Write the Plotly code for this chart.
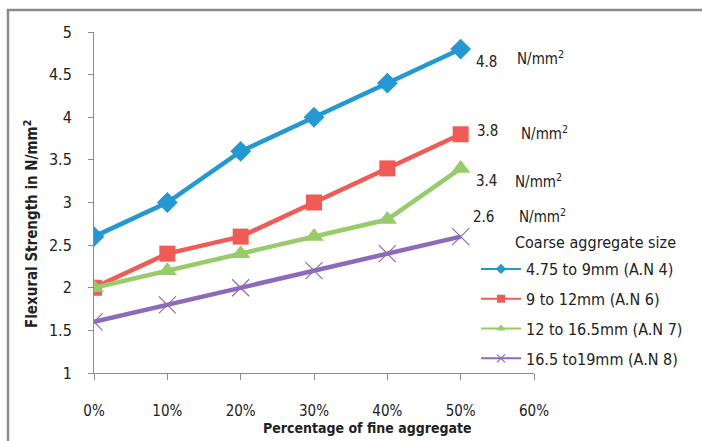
import plotly.graph_objects as go

# Percentage of fine aggregate (x) and flexural strength (N/mm²) per coarse aggregate size
fine_pct = [0, 10, 20, 30, 40, 50]
x_ticks = [0, 10, 20, 30, 40, 50, 60]
x_tick_text = ["0%", "10%", "20%", "30%", "40%", "50%", "60%"]

series_names = [
    "4.75 to 9mm (A.N 4)",
    "9 to 12mm (A.N 6)",
    "12 to 16.5mm (A.N 7)",
    "16.5 to19mm (A.N 8)",
]
an4 = [2.6, 3.0, 3.6, 4.0, 4.4, 4.8]
an6 = [2.0, 2.4, 2.6, 3.0, 3.4, 3.8]
an7 = [2.0, 2.2, 2.4, 2.6, 2.8, 3.4]
an8 = [1.6, 1.8, 2.0, 2.2, 2.4, 2.6]

colors = ["#2399d3", "#f05b56", "#98cb69", "#8c6cba"]
symbols = ["diamond", "square", "triangle-up", "x-thin"]
sizes = [16, 16, 17, 17]

FONT = "DejaVu Sans Condensed, sans-serif"

fig = go.Figure()

all_series = [an4, an6, an7, an8]
for name, vals, col, sym, sz in zip(series_names, all_series, colors, symbols, sizes):
    marker = dict(symbol=sym, size=sz, color=col)
    if sym == "x-thin":
        marker["line"] = dict(color=col, width=1.2)
    fig.add_trace(go.Scatter(
        x=fine_pct, y=vals, mode="lines+markers", name=name,
        line=dict(color=col, width=4.5), marker=marker, showlegend=False,
    ))

# Legend keys drawn with a thinner line and small markers
for i, (name, col, sym) in enumerate(zip(series_names, colors, symbols)):
    marker = dict(symbol=sym, size=8, color=col)
    if sym == "x-thin":
        marker["line"] = dict(color=col, width=1.2)
    fig.add_trace(go.Scatter(
        x=[None], y=[None], mode="lines+markers", name=name,
        line=dict(color=col, width=2), marker=marker,
        legendgroup=f"g{i}", showlegend=True,
    ))

# End-value labels
label_shifts = [(26, -13, 80, -9), (27, 3, 84, 1), (26, -13, 78, -13), (23, 20, 82, 21)]
for vals, (dx, dy, ux, uy) in zip(all_series, label_shifts):
    fig.add_annotation(x=fine_pct[-1], y=vals[-1], text=f"{vals[-1]}", showarrow=False,
                       xshift=dx, yshift=dy, font=dict(family=FONT, size=15, color="#222"))
    fig.add_annotation(x=fine_pct[-1], y=vals[-1], text="N/mm<sup>2</sup>", showarrow=False,
                       xshift=ux, yshift=uy, font=dict(family=FONT, size=15, color="#222"))

# Legend heading
fig.add_annotation(xref="paper", yref="paper", x=(513 - 94) / 440, y=(373 - 242) / 341,
                   xanchor="left", yanchor="middle", text="Coarse aggregate size",
                   showarrow=False, font=dict(family=FONT, size=16, color="#222"))

# Axis titles
fig.add_annotation(xref="paper", yref="paper", x=(367 - 94) / 440, y=(373 - 428) / 341,
                   xanchor="center", yanchor="middle", text="<b>Percentage of fine aggregate</b>",
                   showarrow=False, font=dict(family=FONT, size=14, color="#222"))
fig.add_annotation(xref="paper", yref="paper", x=(31 - 94) / 440, y=(373 - 224) / 341,
                   xanchor="center", yanchor="middle", textangle=-90,
                   text="<b>Flexural Strength in N/mm<sup>2</sup></b>",
                   showarrow=False, font=dict(family=FONT, size=15, color="#222"))

# Outer chart frame
fig.add_shape(type="rect", xref="paper", yref="paper",
              x0=(8 - 94) / 440, x1=(720 - 94) / 440,
              y0=(373 - 460) / 341, y1=(373 - 10) / 341,
              line=dict(color="#8a8a8a", width=2.5), fillcolor="rgba(0,0,0,0)", layer="below")

fig.update_layout(
    width=702, height=441,
    margin=dict(l=94, r=168, t=32, b=68),
    paper_bgcolor="white", plot_bgcolor="white",
    font=dict(family=FONT, size=15, color="#222"),
    showlegend=True,
    legend=dict(x=(476 - 94) / 440, y=(373 - 252) / 341, xanchor="left", yanchor="top",
                bgcolor="rgba(0,0,0,0)", font=dict(family=FONT, size=16, color="#222"),
                tracegroupgap=6, itemwidth=40),
    xaxis=dict(range=[0, 60], tickvals=x_ticks, ticktext=x_tick_text, showgrid=False,
               zeroline=False, showline=True, linecolor="#8a8a8a", linewidth=1,
               ticks="outside", ticklen=6, tickcolor="#8a8a8a",
               ticklabelstandoff=18, tickfont=dict(family=FONT, size=15, color="#222")),
    yaxis=dict(range=[1, 5], dtick=0.5, showgrid=False, zeroline=False, showline=True,
               linecolor="#8a8a8a", linewidth=1, ticks="outside", ticklen=5,
               tickcolor="#8a8a8a", ticklabelstandoff=13,
               tickfont=dict(family=FONT, size=16, color="#222")),
)

fig.write_html("out.html")
